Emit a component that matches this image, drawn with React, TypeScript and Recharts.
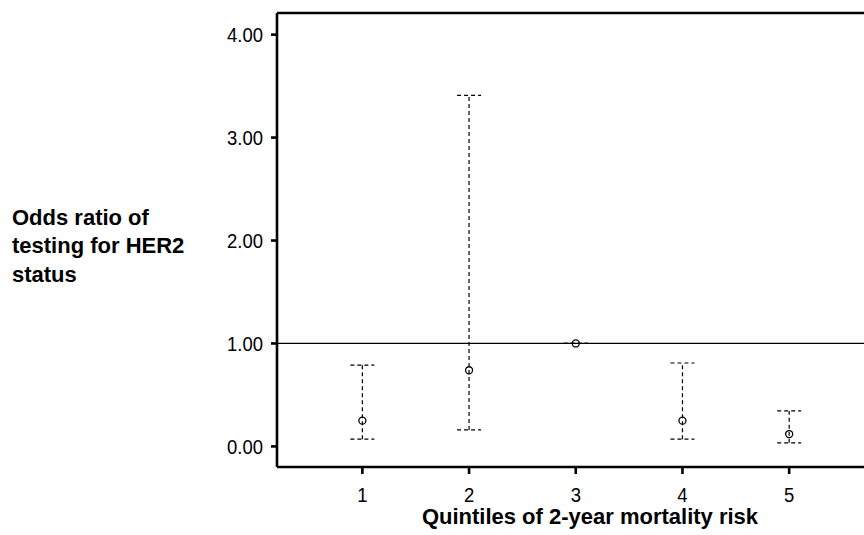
import { ComposedChart, Scatter, ErrorBar, XAxis, YAxis, ReferenceLine } from 'recharts'

// odds ratios with 95% CI per mortality-risk quintile
const quintiles = [1, 2, 3, 4, 5]
const oddsRatio = [0.25, 0.74, 1.0, 0.25, 0.12]
const lowerCI = [0.07, 0.16, 1.0, 0.07, 0.035]
const upperCI = [0.79, 3.41, 1.0, 0.81, 0.345]
const yTicks = [0, 1, 2, 3, 4]
const yMax = 4.21

const data = quintiles.map((q, i) => ({
  x: q,
  y: oddsRatio[i],
  ci: [oddsRatio[i] - lowerCI[i], upperCI[i] - oddsRatio[i]],
}))

const font = '"Liberation Sans", Arial, sans-serif'
const axisStroke = { stroke: '#000', strokeWidth: 2.6 }

const Dot = (props: any) => (
  <circle cx={props.cx} cy={props.cy} r={3.5} fill="none" stroke="#000" strokeWidth={1.3} />
)

// narrow-ish tick text, like the original's condensed face
const XTick = ({ x, y, payload }: any) => (
  <text transform={`translate(${x},${y}) scale(0.88,1)`} dy="0.71em" textAnchor="middle" fontSize={21} fill="#000">
    {payload.value}
  </text>
)

const YTick = ({ x, y, payload }: any) => (
  <text transform={`translate(${x},${y}) scale(0.88,1)`} dy="0.355em" textAnchor="end" fontSize={21} fill="#000">
    {Number(payload.value).toFixed(2)}
  </text>
)

export default function App() {
  return (
    <div style={{ position: 'absolute', left: 0, top: 0, width: 864, height: 535, overflow: 'hidden', background: '#fff' }}>
      <ComposedChart
        width={870}
        height={535}
        data={data}
        margin={{ top: 13, right: 4, left: 0, bottom: 0 }}
        style={{ fontFamily: font }}
      >
        <XAxis
          dataKey="x"
          type="number"
          domain={[0.2, 5.72]}
          ticks={quintiles}
          allowDataOverflow
          height={68}
          axisLine={axisStroke}
          tickLine={axisStroke}
          tickSize={7}
          tickMargin={13}
          tick={<XTick />}
          label={{
            content: () => (
              <text x={590} y={524} textAnchor="middle" fontSize={22} fontWeight="bold" fill="#000">
                Quintiles of 2-year mortality risk
              </text>
            ),
          }}
        />
        <YAxis
          type="number"
          domain={[-0.2, yMax]}
          ticks={yTicks}
          allowDataOverflow
          width={277}
          axisLine={axisStroke}
          tickLine={axisStroke}
          tickSize={6}
          tickMargin={8}
          tick={<YTick />}
          label={{
            content: () => (
              <text x={12} fontSize={22} fontWeight="bold" fill="#000">
                <tspan x={12} y={225}>Odds ratio of</tspan>
                <tspan x={12} y={253}>testing for HER2</tspan>
                <tspan x={12} y={282}>status</tspan>
              </text>
            ),
          }}
        />
        <ReferenceLine y={yMax} stroke="#000" strokeWidth={2.6} />
        <ReferenceLine y={1} stroke="#000" strokeWidth={1.2} />
        <Scatter dataKey="y" shape={Dot} isAnimationActive={false}>
          <ErrorBar
            dataKey="ci"
            direction="y"
            width={12}
            stroke="#000"
            strokeWidth={1.2}
            strokeDasharray="4 3"
            isAnimationActive={false}
          />
        </Scatter>
      </ComposedChart>
    </div>
  )
}
